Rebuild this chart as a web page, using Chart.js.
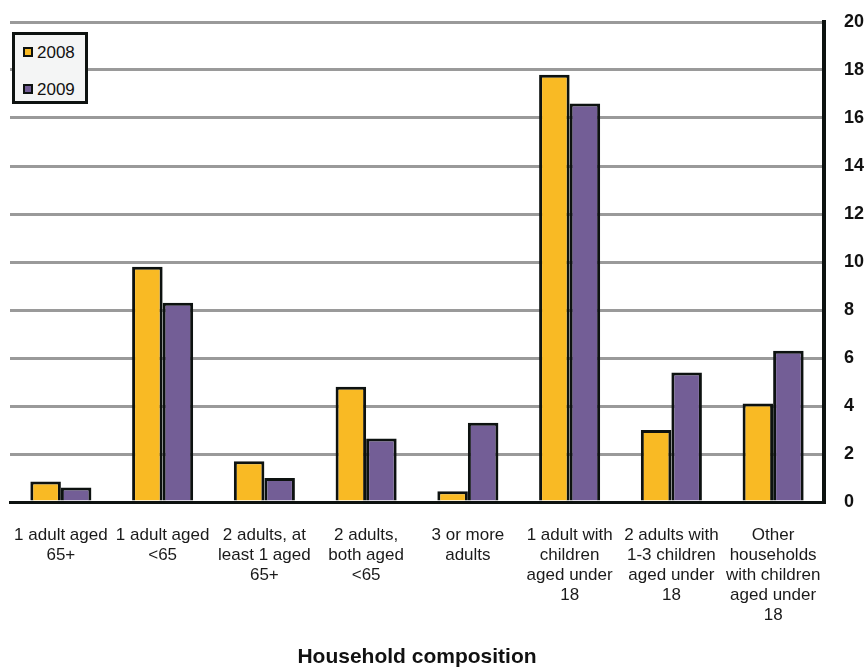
<!DOCTYPE html>
<html>
<head>
<meta charset="utf-8">
<title>Household composition</title>
<script src="https://cdn.jsdelivr.net/npm/chart.js@4.4.1/dist/chart.umd.min.js"></script>
<style>
  html, body { margin: 0; padding: 0; background: #ffffff; }
  #chart-container { position: relative; width: 867px; height: 668px; }
  #legend {
    position: absolute; left: 12px; top: 32px; width: 70px; height: 66px;
    border: 3px solid #0d1210; background: #f4f5f5;
    font-family: "Liberation Sans", Arial, sans-serif; font-size: 17px; color: #111;
  }
  #legend .item { position: absolute; left: 8px; height: 20px; line-height: 20px; }
  #legend .swatch {
    display: inline-block; width: 6px; height: 6px; border: 2.5px solid #0d1210;
    vertical-align: middle; margin-right: 4px; margin-top: -3px;
  }
</style>
</head>
<body>
<div id="chart-container">
  <canvas id="myChart" width="867" height="668"></canvas>
  <div id="legend"></div>
</div>
<script>
// household types along the x axis
const categories = [
  ["1 adult aged", "65+"],
  ["1 adult aged", "<65"],
  ["2 adults, at", "least 1 aged", "65+"],
  ["2 adults,", "both aged", "<65"],
  ["3 or more", "adults"],
  ["1 adult with", "children", "aged under", "18"],
  ["2 adults with", "1-3 children", "aged under", "18"],
  ["Other", "households", "with children", "aged under", "18"]
];

const values2008 = [0.85, 9.8, 1.7, 4.8, 0.45, 17.8, 3.0, 4.1];
const values2009 = [0.6, 8.3, 1.0, 2.65, 3.3, 16.6, 5.4, 6.3];

const yTicks = [0, 2, 4, 6, 8, 10, 12, 14, 16, 18, 20];

const fontFamily = '"Liberation Sans", Arial, sans-serif';

const ctx = document.getElementById("myChart").getContext("2d");

const chart = new Chart(ctx, {
  type: "bar",
  data: {
    labels: categories,
    datasets: [
      {
        label: "2008",
        data: values2008,
        backgroundColor: "#f9ba24",
        borderColor: "#0d1210",
        borderWidth: 3,
      },
      {
        label: "2009",
        data: values2009,
        backgroundColor: "#735e96",
        borderColor: "#0d1210",
        borderWidth: 3,
      },
    ],
  },
  options: {
    responsive: false,
    animation: false,
    layout: {
      padding: { left: 10, top: 22, right: 0, bottom: 0 },
    },
    plugins: {
      legend: { display: false },
      tooltip: { enabled: false },
    },
    datasets: {
      bar: { categoryPercentage: 0.6, barPercentage: 1.0 },
    },
    scales: {
      x: {
        afterFit: (scale) => {
          scale.height = 166;
          scale.paddingLeft = 0;
          scale.paddingRight = 0;
        },
        grid: { display: false, drawTicks: false },
        border: { display: true, color: "#0d1210", width: 3 },
        ticks: {
          autoSkip: false,
          maxRotation: 0,
          minRotation: 0,
          padding: 23,
          color: "#1a1a1a",
          font: { family: fontFamily, size: 17, lineHeight: 20 / 17 },
        },
        title: {
          display: true,
          text: "Household composition",
          color: "#111",
          font: { family: fontFamily, size: 21, weight: "bold" },
          padding: { top: 0, bottom: -2 },
        },
      },
      y: {
        position: "right",
        min: 0,
        max: 20,
        afterBuildTicks: (axis) => {
          axis.ticks = yTicks.map((v) => ({ value: v }));
        },
        afterFit: (scale) => {
          scale.width = 43;
          scale.paddingTop = 0;
          scale.paddingBottom = 0;
        },
        grid: { color: "#9a9a9a", lineWidth: 3, drawTicks: false },
        border: { display: true, color: "#0d1210", width: 4 },
        ticks: {
          padding: 20,
          color: "#111",
          font: { family: fontFamily, size: 18, weight: "bold" },
        },
      },
    },
  },
});

// legend box in the top-left corner, built from the datasets
const legendBox = document.getElementById("legend");
chart.data.datasets.forEach((ds, i) => {
  const item = document.createElement("div");
  item.className = "item";
  item.style.top = (i === 0 ? 8 : 45) + "px";
  const swatch = document.createElement("span");
  swatch.className = "swatch";
  swatch.style.background = ds.backgroundColor;
  item.appendChild(swatch);
  item.appendChild(document.createTextNode(ds.label));
  legendBox.appendChild(item);
});
</script>
</body>
</html>
